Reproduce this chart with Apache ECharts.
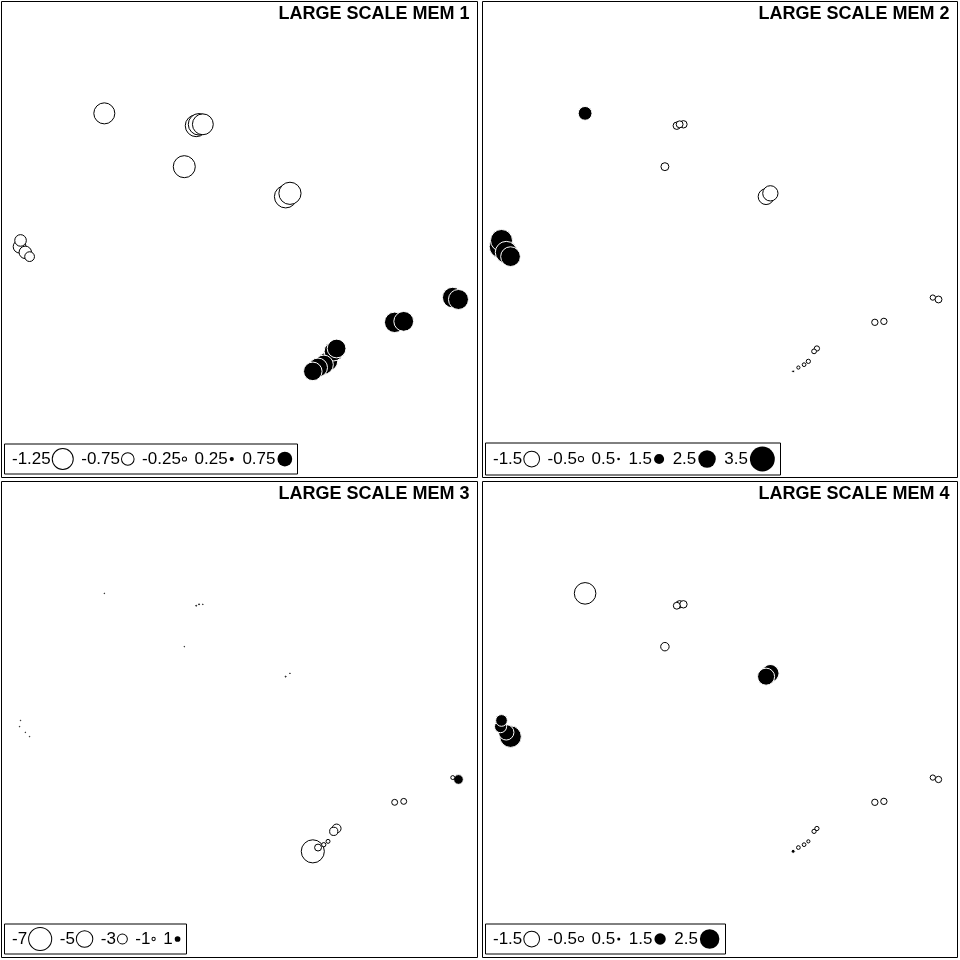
<!DOCTYPE html>
<html><head><meta charset="utf-8">
<script src="https://cdn.jsdelivr.net/npm/echarts@6/dist/echarts.min.js"></script>
<style>html,body{margin:0;padding:0;background:#fff}#c{width:960px;height:960px}</style>
</head><body><div id="c"></div>
<script>
// Site coordinates (arbitrary units, 0-100)
const siteX = [21.6, 40.9, 41.5, 42.3, 38.4, 60.6, 59.7, 4.0, 3.8, 5.0, 5.9, 94.8, 96.0, 82.6, 84.5, 69.8, 70.4, 68.6, 67.7, 66.5, 65.4];
const siteY = [76.5, 73.9, 74.2, 74.2, 65.3, 59.7, 59.0, 49.8, 48.5, 47.3, 46.4, 37.8, 37.4, 32.6, 32.8, 26.5, 27.1, 24.4, 23.7, 23.1, 22.3];
// MEM values per site
const mem1 = [-1.31, -1.36, -1.34, -1.30, -1.37, -1.38, -1.40, -0.75, -0.82, -0.80, -0.64, 1.03, 1.00, 1.02, 0.99, 0.96, 0.94, 0.97, 0.96, 0.95, 0.93];
const mem2 = [2.00, -0.80, -0.75, -0.80, -0.85, -1.55, -1.60, 3.10, 3.20, 3.10, 2.80, -0.60, -0.75, -0.70, -0.70, -0.55, -0.60, -0.50, -0.45, -0.40, 0.50];
const mem3 = [-0.30, -0.60, -0.60, -0.50, -0.30, -0.50, -0.60, -0.40, -0.40, -0.40, -0.40, -1.50, 1.60, -2.10, -2.10, -2.80, -3.00, -1.50, -1.60, -2.40, -7.30];
const mem4 = [-2.15, -0.75, -0.80, -0.80, -0.90, 2.25, 2.20, 1.55, 1.60, 2.00, 2.75, -0.60, -0.70, -0.70, -0.70, -0.50, -0.50, -0.40, -0.45, -0.45, 0.60];
// Legend breaks
const breaks1 = [-1.25, -0.75, -0.25, 0.25, 0.75];
const breaks2 = [-1.5, -0.5, 0.5, 1.5, 2.5, 3.5];
const breaks3 = [-7, -5, -3, -1, 1];
const breaks4 = [-1.5, -0.5, 0.5, 1.5, 2.5];
const titles = ['LARGE SCALE MEM 1', 'LARGE SCALE MEM 2', 'LARGE SCALE MEM 3', 'LARGE SCALE MEM 4'];

const panels = [
  {vals: mem1, breaks: breaks1, kn: 16.8, kp: 21, g: {left: 1.5, top: 1.5, width: 476, height: 476}},
  {vals: mem2, breaks: breaks2, kn: 10.5, kp: 7.4, g: {left: 482.5, top: 1.5, width: 475, height: 476}},
  {vals: mem3, breaks: breaks3, kn: 3.3, kp: 6.7, g: {left: 1.5, top: 481.5, width: 476, height: 476}},
  {vals: mem4, breaks: breaks4, kn: 10.5, kp: 8.2, g: {left: 482.5, top: 481.5, width: 475, height: 476}}
];
const FONT = '"Liberation Sans", Arial, sans-serif';
function sz(p, v) { return Math.max((v < 0 ? p.kn : p.kp) * Math.abs(v) - 1, 0.6); }

const option = {animation: false, grid: [], xAxis: [], yAxis: [], series: [], title: []};
panels.forEach((p, i) => {
  option.grid.push(Object.assign({show: true, borderColor: '#000', borderWidth: 1, backgroundColor: '#fff'}, p.g));
  option.xAxis.push({gridIndex: i, type: 'value', min: 0, max: 100, show: false});
  option.yAxis.push({gridIndex: i, type: 'value', min: 0, max: 100, show: false});
  // largest symbols first so that small ones stay visible on top
  const order = p.vals.map((v, j) => j).sort((a, b) => Math.abs(p.vals[b]) - Math.abs(p.vals[a]));
  option.series.push({
    type: 'scatter', xAxisIndex: i, yAxisIndex: i, silent: true, symbol: 'circle',
    symbolSize: (d) => sz(p, d[2]),
    data: order.map((j) => {
      const v = p.vals[j];
      return {
        value: [siteX[j], siteY[j], v],
        itemStyle: {color: v < 0 ? '#fff' : '#000', borderColor: v < 0 ? '#000' : '#fff', borderWidth: 1, opacity: 1}
      };
    })
  });
  // panel title
  option.title.push({
    text: titles[i], right: 960 - (p.g.left + p.g.width) + 8, top: p.g.top + 4, padding: 0,
    textStyle: {fontFamily: FONT, fontWeight: 'bold', fontSize: 18, color: '#000'}
  });
  // legend box as rich text
  const rich = {t: {fontFamily: FONT, fontSize: 17, fontWeight: 'normal', color: '#000', lineHeight: 25, padding: [0, 2, 0, 0]}, s: {width: 8.5}};
  let txt = '';
  p.breaks.forEach((b, k) => {
    const d = sz(p, b);
    rich['c' + k] = {width: d, height: d, borderRadius: d / 2, backgroundColor: b < 0 ? '#fff' : '#000',
      borderColor: b < 0 ? '#000' : '#fff', borderWidth: 1};
    txt += '{t|' + b + '}{c' + k + '| }' + (k < p.breaks.length - 1 ? '{s| }' : '');
  });
  option.title.push({
    text: txt, left: p.g.left + 2.5, top: p.g.top + p.g.height - 34,
    backgroundColor: '#fff', borderColor: '#000', borderWidth: 1, padding: [3, 5, 3, 8],
    textStyle: {rich: rich, fontFamily: FONT, fontSize: 17, fontWeight: 'normal', lineHeight: 25}
  });
});
const chart = echarts.init(document.getElementById('c'), null, {renderer: 'canvas'});
chart.setOption(option);
</script></body></html>
